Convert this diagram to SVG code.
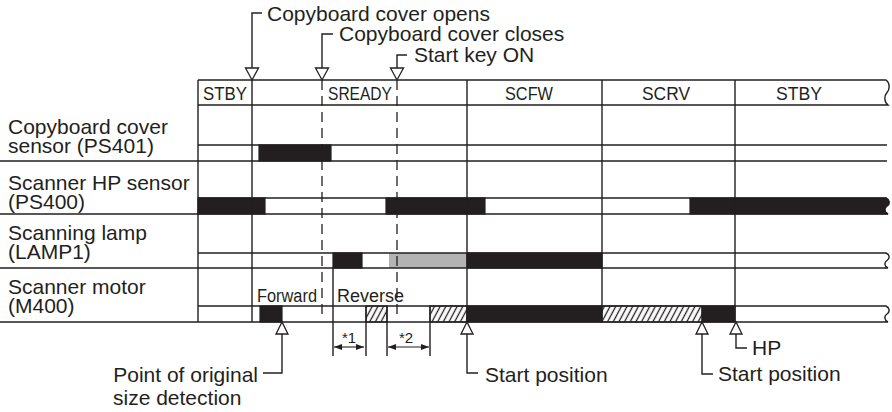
<svg xmlns="http://www.w3.org/2000/svg" width="892" height="412" viewBox="0 0 892 412">
<defs>
<pattern id="hatch" width="5" height="10" patternUnits="userSpaceOnUse" patternTransform="rotate(28)">
<rect width="5" height="10" fill="#fff"/>
<line x1="2.5" y1="0" x2="2.5" y2="10" stroke="#231f20" stroke-width="1.3"/>
</pattern>
<marker id="ah" viewBox="0 0 8 6" refX="8" refY="3" markerWidth="8" markerHeight="6" orient="auto-start-reverse" markerUnits="userSpaceOnUse"><path d="M0,0 L8,3 L0,6 Z" fill="#231f20"/></marker>
</defs>
<style>
.ln{stroke:#231f20;stroke-width:1.4;fill:none}
.blk{fill:#231f20;stroke:#231f20;stroke-width:1.2}
.gry{fill:#b3b3b3}
.hat{fill:url(#hatch);stroke:#231f20;stroke-width:1.2}
.dash{stroke:#231f20;stroke-width:1.3;stroke-dasharray:10 6;fill:none}
.tri{fill:#fff;stroke:#231f20;stroke-width:1.3}
text{font-family:"Liberation Sans",Arial,sans-serif;fill:#231f20}
.t{font-size:21px}
.h{font-size:18px}
.s{font-size:15px}
</style>
<rect width="892" height="412" fill="#fff"/>

<g id="header">
<path class="ln" d="M198,80 H886 c4,3 4,9 1,12.5 c-3,3.5 -3,9.5 1,12.5 H198"/>
<text class="h" x="203" y="100" textLength="44" lengthAdjust="spacingAndGlyphs">STBY</text>
<text class="h" x="328" y="100" textLength="64" lengthAdjust="spacingAndGlyphs">SREADY</text>
<text class="h" x="505" y="100" textLength="48" lengthAdjust="spacingAndGlyphs">SCFW</text>
<text class="h" x="642" y="100" textLength="48" lengthAdjust="spacingAndGlyphs">SCRV</text>
<text class="h" x="776" y="100" textLength="46" lengthAdjust="spacingAndGlyphs">STBY</text>
</g>

<g id="row-ps401">
<text class="t" x="8" y="134">Copyboard cover</text>
<text class="t" x="8" y="153">sensor (PS401)</text>
<rect class="blk" x="259" y="145" width="72" height="16"/>
<path class="ln" d="M198,145 H887 M0,161 H887"/>
</g>

<g id="row-ps400">
<text class="t" x="8" y="190">Scanner HP sensor</text>
<text class="t" x="8" y="209">(PS400)</text>
<rect class="blk" x="198" y="198" width="67" height="16"/>
<rect class="blk" x="386" y="198" width="99" height="16"/>
<path class="blk" d="M690,198 H886 c4,2 4,6 1,8 c-3,2 -3,6 1,8 H690 Z"/>
<path class="ln" d="M198,198 H886 c4,2 4,6 1,8 c-3,2 -3,6 1,8 H0"/>
</g>

<g id="row-lamp1">
<text class="t" x="8" y="240">Scanning lamp</text>
<text class="t" x="8" y="259">(LAMP1)</text>
<rect class="gry" x="389" y="253" width="78" height="15"/>
<rect class="blk" x="333" y="253" width="29" height="15"/>
<rect class="blk" x="467" y="253" width="135" height="15"/>
<path class="ln" d="M198,253 H886 c4,2 4,5.5 1,7.5 c-3,2 -3,5.5 1,7.5 H0"/>
</g>

<g id="row-m400">
<text class="t" x="8" y="294">Scanner motor</text>
<text class="t" x="8" y="313">(M400)</text>
<text class="h" x="257" y="302" textLength="60" lengthAdjust="spacingAndGlyphs">Forward</text>
<text class="h" x="337" y="302" textLength="67" lengthAdjust="spacingAndGlyphs">Reverse</text>
<rect class="blk" x="260" y="306" width="22" height="16"/>
<rect class="hat" x="366" y="306" width="21" height="16"/>
<rect class="hat" x="430" y="306" width="37" height="16"/>
<rect class="blk" x="467" y="306" width="135" height="16"/>
<rect class="hat" x="602" y="306" width="100" height="16"/>
<rect class="blk" x="702" y="306" width="33" height="16"/>
<path class="ln" d="M198,306 H886 c4,2 4,6 1,8 c-3,2 -3,6 1,8 H0"/>
</g>

<g id="grid">
<path class="ln" d="M198,80 V322 M252,80 V322 M467,80 V322 M602,80 V322 M735,80 V322 M333,268 V356 M366,306 V356 M387,306 V356 M430,306 V356"/>
<path class="dash" d="M322,80 V318 M397,80 V318"/>
</g>

<g id="connectors">
<path class="ln" d="M262,13 H252 V68"/>
<polygon class="tri" points="245.5,68 258.5,68 252,80"/>
<path class="ln" d="M333,34 H322 V68"/>
<polygon class="tri" points="315.5,68 328.5,68 322,80"/>
<path class="ln" d="M407,55 H397 V68"/>
<polygon class="tri" points="390.5,68 403.5,68 397,80"/>
<path class="ln" d="M282,334 V373 H263"/>
<polygon class="tri" points="282,322 276,334 288,334"/>
<path class="ln" d="M467,334 V373 H478"/>
<polygon class="tri" points="467,322 461,334 473,334"/>
<path class="ln" d="M702,334 V374 H713"/>
<polygon class="tri" points="702,322 696,334 708,334"/>
<path class="ln" d="M736,334 V348 H747"/>
<polygon class="tri" points="736,322 730,334 742,334"/>
<line class="ln" x1="334" y1="347" x2="364" y2="347" marker-start="url(#ah)" marker-end="url(#ah)" style="stroke-width:1.1"/>
<line class="ln" x1="388" y1="347" x2="429" y2="347" marker-start="url(#ah)" marker-end="url(#ah)" style="stroke-width:1.1"/>
</g>

<g id="annotations">
<text class="t" x="267" y="21">Copyboard cover opens</text>
<text class="t" x="339" y="41">Copyboard cover closes</text>
<text class="t" x="414" y="62">Start key ON</text>
<text class="s" x="349" y="343" text-anchor="middle">*1</text>
<text class="s" x="406" y="343" text-anchor="middle">*2</text>
<text class="t" x="258" y="382" text-anchor="end">Point of original</text>
<text class="t" x="113" y="405">size detection</text>
<text class="t" x="485" y="382">Start position</text>
<text class="t" x="718" y="381">Start position</text>
<text class="t" x="752" y="355">HP</text>
</g>
</svg>
